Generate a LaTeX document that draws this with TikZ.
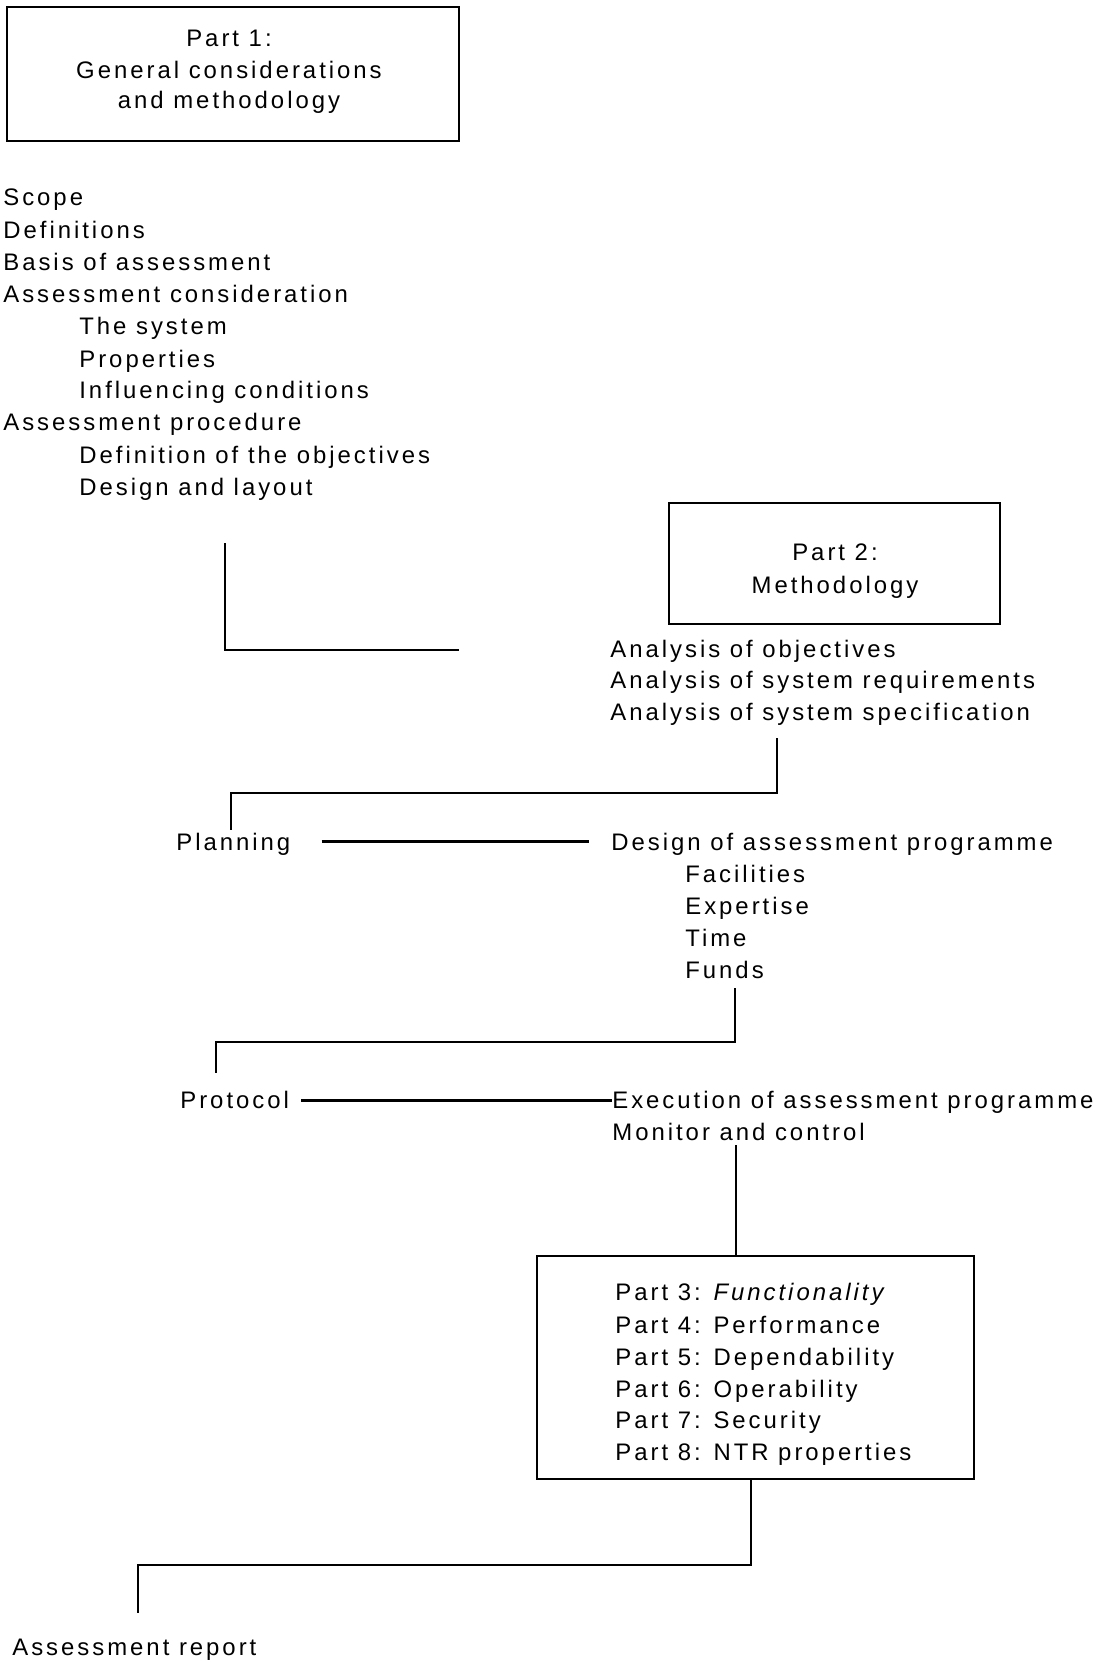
\documentclass[tikz,border=0pt]{standalone}
\usepackage{fontspec}
\setmainfont{Liberation Sans}[LetterSpace=12.5]
\usetikzlibrary{calc}
\tikzset{
  txt/.style={anchor=base west, inner sep=0pt, font=\fontsize{13.6}{18}\selectfont},
  ctxt/.style={txt, anchor=base},
  frame/.style={draw, line width=1.1pt, inner sep=0pt},
  link/.style={line width=1.3pt},
}

\begin{document}
\begin{tikzpicture}
		%%%%% START %%%%%
		\useasboundingbox (0, 0) rectangle (21.96, -33.24);
		
		\node[frame, minimum width=9.04cm, minimum height=2.68cm] (part1) at (4.66, -1.48) {};
		\node[ctxt] (p1a) at (4.58, -0.92) {Part 1:};
		\node[ctxt] (p1b) at (4.58, -1.56) {General considerations};
		\node[ctxt] (p1c) at (4.58, -2.16) {and methodology};
		
		\node[txt] (scope) at (0.06, -4.10) {Scope};
		\node[txt] (defs) at (0.06, -4.76) {Definitions};
		\node[txt] (basis) at (0.06, -5.40) {Basis of assessment};
		\node[txt] (cons) at (0.06, -6.04) {Assessment consideration};
		\node[txt] (sys) at (1.58, -6.68) {The system};
		\node[txt] (props) at (1.58, -7.34) {Properties};
		\node[txt] (infl) at (1.58, -7.96) {Influencing conditions};
		\node[txt] (proc) at (0.06, -8.60) {Assessment procedure};
		\node[txt] (obj) at (1.58, -9.26) {Definition of the objectives};
		\node[txt] (lay) at (1.58, -9.90) {Design and layout};
		
		\coordinate (c1a) at (4.50, -10.86);
		\coordinate (c1b) at (9.18, -13.00);
		\draw[link] (c1a) |- (c1b);
		
		\node[frame, minimum width=6.62cm, minimum height=2.42cm] (part2) at (16.69, -11.27) {};
		\node[ctxt] (p2a) at (16.70, -11.20) {Part 2:};
		\node[ctxt] (p2b) at (16.70, -11.86) {Methodology};
		
		\node[txt] (an1) at (12.20, -13.14) {Analysis of objectives};
		\node[txt] (an2) at (12.20, -13.76) {Analysis of system requirements};
		\node[txt] (an3) at (12.20, -14.40) {Analysis of system specification};
		
		\coordinate (c2a) at (15.54, -14.76);
		\coordinate (c2m) at (4.62, -15.86);
		\coordinate (c2b) at (4.62, -16.60);
		\draw[link] (c2a) |- (c2m) -- (c2b);
		
		\node[txt] (plan) at (3.52, -17.00) {Planning};
		\node[txt] (design) at (12.22, -17.00) {Design of assessment programme};
		\node[txt] (fac) at (13.70, -17.64) {Facilities};
		\node[txt] (exp) at (13.70, -18.28) {Expertise};
		\node[txt] (time) at (13.70, -18.92) {Time};
		\node[txt] (funds) at (13.70, -19.56) {Funds};
		\draw[link, shorten <=0.62cm, shorten >=0.44cm] ([yshift=0.08cm]plan.mid east) -- ([yshift=0.08cm]design.mid west);
		
		\coordinate (c3a) at (14.70, -19.76);
		\coordinate (c3m) at (4.32, -20.84);
		\coordinate (c3b) at (4.32, -21.46);
		\draw[link] (c3a) |- (c3m) -- (c3b);
		
		\node[txt] (proto) at (3.60, -22.16) {Protocol};
		\node[txt] (exec) at (12.24, -22.16) {Execution of assessment programme};
		\node[txt] (monitor) at (12.24, -22.80) {Monitor and control};
		\draw[link, shorten <=0.24cm] ([yshift=0.06cm]proto.mid east) -- ([yshift=0.06cm]exec.mid west);
		
		\node[frame, minimum width=8.74cm, minimum height=4.46cm] (part3) at (15.11, -27.35) {};
		\coordinate (c4a) at (14.72, -22.90);
		\draw[link] (c4a) -- (c4a |- part3.north);
		\node[txt] (p3) at (12.30, -26.00) {Part 3: \textit{Functionality}};
		\node[txt] (p4) at (12.30, -26.66) {Part 4: Performance};
		\node[txt] (p5) at (12.30, -27.30) {Part 5: Dependability};
		\node[txt] (p6) at (12.30, -27.94) {Part 6: Operability};
		\node[txt] (p7) at (12.30, -28.56) {Part 7: Security};
		\node[txt] (p8) at (12.30, -29.20) {Part 8: NTR properties};
		
		\coordinate (c5a) at (15.02, 0);
		\coordinate (c5m) at (2.76, -31.30);
		\coordinate (c5b) at (2.76, -32.26);
		\draw[link] (part3.south -| c5a) |- (c5m) -- (c5b);
		
		\node[txt] (report) at (0.24, -33.10) {Assessment report};
		%%%%% END %%%%%
\end{tikzpicture}
\end{document}
